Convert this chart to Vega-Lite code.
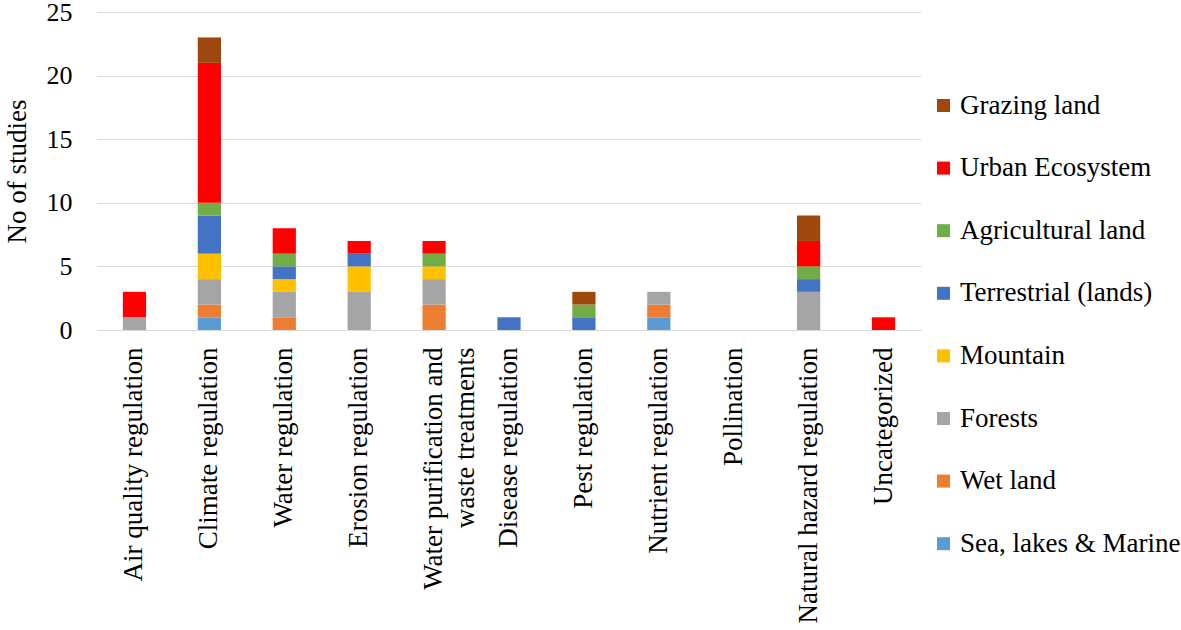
{
  "$schema": "https://vega.github.io/schema/vega-lite/v6.json",
  "autosize": {"type": "none"},
  "padding": {"left": 97, "top": 12, "right": 260, "bottom": 299},
  "width": 824,
  "height": 318,
  "background": "white",
  "config": {
    "font": "Liberation Serif",
    "view": {"stroke": null},
    "axis": {"labelFont": "Liberation Serif", "titleFont": "Liberation Serif", "labelColor": "#000000", "titleColor": "#000000"},
    "legend": {"labelFont": "Liberation Serif", "titleFont": "Liberation Serif", "padding": 0}
  },
  "data": {
    "values": [
      {"category": "Air quality regulation", "type": "Forests", "n": 1},
      {"category": "Air quality regulation", "type": "Urban Ecosystem", "n": 2},
      {"category": "Climate regulation", "type": "Sea, lakes & Marine", "n": 1},
      {"category": "Climate regulation", "type": "Wet land", "n": 1},
      {"category": "Climate regulation", "type": "Forests", "n": 2},
      {"category": "Climate regulation", "type": "Mountain", "n": 2},
      {"category": "Climate regulation", "type": "Terrestrial (lands)", "n": 3},
      {"category": "Climate regulation", "type": "Agricultural land", "n": 1},
      {"category": "Climate regulation", "type": "Urban Ecosystem", "n": 11},
      {"category": "Climate regulation", "type": "Grazing land", "n": 2},
      {"category": "Water  regulation", "type": "Wet land", "n": 1},
      {"category": "Water  regulation", "type": "Forests", "n": 2},
      {"category": "Water  regulation", "type": "Mountain", "n": 1},
      {"category": "Water  regulation", "type": "Terrestrial (lands)", "n": 1},
      {"category": "Water  regulation", "type": "Agricultural land", "n": 1},
      {"category": "Water  regulation", "type": "Urban Ecosystem", "n": 2},
      {"category": "Erosion   regulation", "type": "Forests", "n": 3},
      {"category": "Erosion   regulation", "type": "Mountain", "n": 2},
      {"category": "Erosion   regulation", "type": "Terrestrial (lands)", "n": 1},
      {"category": "Erosion   regulation", "type": "Urban Ecosystem", "n": 1},
      {"category": "Water purification and waste treatments", "type": "Wet land", "n": 2},
      {"category": "Water purification and waste treatments", "type": "Forests", "n": 2},
      {"category": "Water purification and waste treatments", "type": "Mountain", "n": 1},
      {"category": "Water purification and waste treatments", "type": "Agricultural land", "n": 1},
      {"category": "Water purification and waste treatments", "type": "Urban Ecosystem", "n": 1},
      {"category": "Disease regulation", "type": "Terrestrial (lands)", "n": 1},
      {"category": "Pest regulation", "type": "Terrestrial (lands)", "n": 1},
      {"category": "Pest regulation", "type": "Agricultural land", "n": 1},
      {"category": "Pest regulation", "type": "Grazing land", "n": 1},
      {"category": "Nutrient regulation", "type": "Sea, lakes & Marine", "n": 1},
      {"category": "Nutrient regulation", "type": "Wet land", "n": 1},
      {"category": "Nutrient regulation", "type": "Forests", "n": 1},
      {"category": "Pollination", "type": "Forests", "n": 0},
      {"category": "Natural hazard regulation", "type": "Forests", "n": 3},
      {"category": "Natural hazard regulation", "type": "Terrestrial (lands)", "n": 1},
      {"category": "Natural hazard regulation", "type": "Agricultural land", "n": 1},
      {"category": "Natural hazard regulation", "type": "Urban Ecosystem", "n": 2},
      {"category": "Natural hazard regulation", "type": "Grazing land", "n": 2},
      {"category": "Uncategorized", "type": "Urban Ecosystem", "n": 1}
    ]
  },
  "transform": [
    {"calculate": "indexof(['Sea, lakes & Marine','Wet land','Forests','Mountain','Terrestrial (lands)','Agricultural land','Urban Ecosystem','Grazing land'], datum.type)", "as": "stackOrder"}
  ],
  "mark": {"type": "bar"},
  "encoding": {
    "x": {
      "field": "category",
      "type": "nominal",
      "sort": null,
      "scale": {"paddingInner": 0.69, "paddingOuter": 0.345},
      "axis": {
        "title": null,
        "labelAngle": -90,
        "labelFont": "Liberation Serif",
        "labelFontSize": 27,
        "labelPadding": 17,
        "labelLimit": 400,
        "labelLineHeight": 32,
        "labelExpr": "datum.label == 'Water purification and waste treatments' ? ['Water purification and', 'waste treatments'] : datum.label",
        "ticks": false,
        "domain": true,
        "domainColor": "#d9d9d9",
        "domainWidth": 1
      }
    },
    "y": {
      "field": "n",
      "type": "quantitative",
      "stack": "zero",
      "scale": {"domain": [0, 25], "nice": false},
      "axis": {
        "title": "No of studies",
        "titleFont": "Liberation Serif",
        "titleFontSize": 27,
        "titleFontWeight": "normal",
        "titlePadding": 15,
        "values": [0, 5, 10, 15, 20, 25],
        "labelFont": "Liberation Serif",
        "labelFontSize": 26,
        "labelPadding": 25,
        "ticks": false,
        "domain": false,
        "grid": true,
        "gridColor": "#d9d9d9",
        "gridWidth": 1
      }
    },
    "color": {
      "field": "type",
      "type": "nominal",
      "scale": {
        "domain": ["Grazing land", "Urban Ecosystem", "Agricultural land", "Terrestrial (lands)", "Mountain", "Forests", "Wet land", "Sea, lakes & Marine"],
        "range": ["#9E480E", "#FF0000", "#70AD47", "#4472C4", "#FFC000", "#A5A5A5", "#ED7D31", "#5B9BD5"]
      },
      "legend": {
        "title": null,
        "orient": "none",
        "legendX": 833,
        "legendY": 80,
        "symbolType": "square",
        "symbolSize": 169,
        "symbolStrokeWidth": 0,
        "labelFontSize": 27,
        "labelFont": "Liberation Serif",
        "labelColor": "#000000",
        "labelOffset": 3,
        "labelLimit": 300,
        "rowPadding": 34.6
      }
    },
    "order": {"field": "stackOrder", "type": "quantitative", "sort": "ascending"}
  }
}
